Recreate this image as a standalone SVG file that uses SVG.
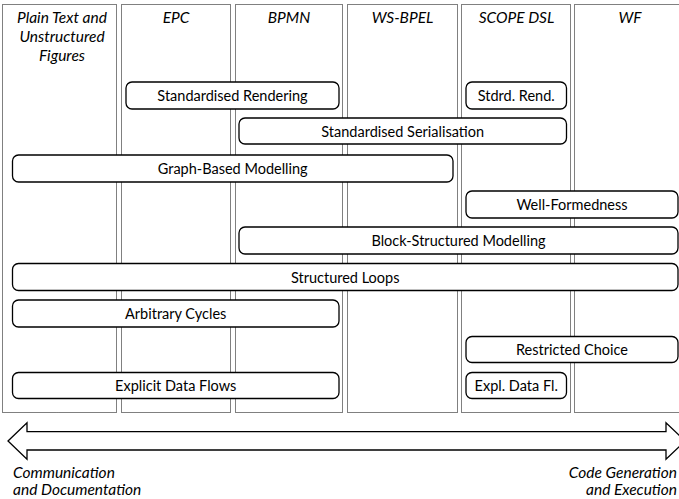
<svg xmlns="http://www.w3.org/2000/svg" width="679" height="499" viewBox="0 0 679 499">
<style>
.col{fill:none;stroke:#000;stroke-width:1;stroke-dasharray:1 1}
.box{fill:#fff;stroke:#000;stroke-width:1.3}
.lbl{font-family:Lato,"Open Sans",sans-serif;font-size:14.5px;fill:#000;text-anchor:middle}
.hdr{font-family:Lato,"Open Sans",sans-serif;font-size:15.5px;font-style:italic;fill:#000;text-anchor:middle}
.cap{font-family:Lato,"Open Sans",sans-serif;font-size:15.5px;font-style:italic;fill:#000}
</style>
<rect width="679" height="499" fill="#fff"/>
<g id="columns">
<g id="col-plain"><rect class="col" x="2.5" y="4.5" width="114" height="408"/>
<text class="hdr" x="62" y="23">Plain Text and</text><text class="hdr" x="62" y="42">Unstructured</text><text class="hdr" x="62" y="61">Figures</text></g>
<g id="col-epc"><rect class="col" x="121.5" y="4.5" width="109" height="408"/><text class="hdr" x="176" y="23">EPC</text></g>
<g id="col-bpmn"><rect class="col" x="235.5" y="4.5" width="107" height="408"/><text class="hdr" x="289" y="23">BPMN</text></g>
<g id="col-wsbpel"><rect class="col" x="347.5" y="4.5" width="110" height="408"/><text class="hdr" x="402.5" y="23">WS-BPEL</text></g>
<g id="col-scope"><rect class="col" x="461.5" y="4.5" width="109" height="408"/><text class="hdr" x="516.5" y="23">SCOPE DSL</text></g>
<g id="col-wf"><rect class="col" x="574.5" y="4.5" width="112" height="408"/><text class="hdr" x="630" y="23">WF</text></g>
</g>
<g id="n1"><rect class="box" x="126" y="82" width="213" height="27" rx="6"/><text class="lbl" x="232.5" y="101">Standardised Rendering</text></g>
<g id="n2"><rect class="box" x="466" y="82" width="100.5" height="27" rx="6"/><text class="lbl" x="516.2" y="101">Stdrd. Rend.</text></g>
<g id="n3"><rect class="box" x="239" y="118" width="327.5" height="26" rx="6"/><text class="lbl" x="402.7" y="137">Standardised Serialisation</text></g>
<g id="n4"><rect class="box" x="12.5" y="155" width="440.5" height="27" rx="6"/><text class="lbl" x="232.7" y="174">Graph-Based Modelling</text></g>
<g id="n5"><rect class="box" x="466" y="191" width="212" height="27" rx="6"/><text class="lbl" x="572" y="210">Well-Formedness</text></g>
<g id="n6"><rect class="box" x="239" y="227" width="439" height="27" rx="6"/><text class="lbl" x="458.5" y="246">Block-Structured Modelling</text></g>
<g id="n7"><rect class="box" x="12.5" y="263.5" width="665.5" height="27" rx="6"/><text class="lbl" x="345.2" y="282.5">Structured Loops</text></g>
<g id="n8"><rect class="box" x="12.5" y="300" width="326.5" height="27" rx="6"/><text class="lbl" x="175.7" y="319">Arbitrary Cycles</text></g>
<g id="n9"><rect class="box" x="466" y="336.5" width="212" height="26" rx="6"/><text class="lbl" x="572" y="355">Restricted Choice</text></g>
<g id="n10"><rect class="box" x="12.5" y="372.5" width="326.5" height="26" rx="6"/><text class="lbl" x="175.7" y="391">Explicit Data Flows</text></g>
<g id="n11"><rect class="box" x="466" y="372.5" width="100.5" height="26" rx="6"/><text class="lbl" x="516.2" y="391">Expl. Data Fl.</text></g>
<g id="connectors">
<polygon points="8,441 27,422.7 27,431.7 666,431.7 666,422.7 685,441 666,459.3 666,450 27,450 27,459.3" fill="#fff" stroke="#000" stroke-width="1.3" stroke-linejoin="miter"/>
</g>
<g id="captions">
<text class="cap" x="13" y="478">Communication</text>
<text class="cap" x="13" y="495">and Documentation</text>
<text class="cap" x="677" y="478" text-anchor="end">Code Generation</text>
<text class="cap" x="677" y="495" text-anchor="end">and Execution</text>
</g>
</svg>
